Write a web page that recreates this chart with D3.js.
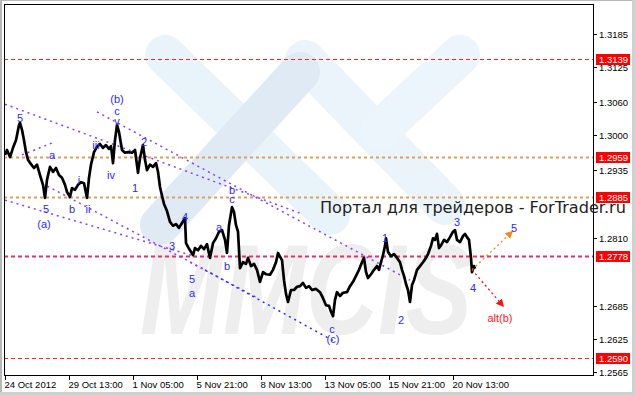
<!DOCTYPE html>
<html><head><meta charset="utf-8">
<script src="https://cdn.jsdelivr.net/npm/d3@7"></script>
<style>html,body{margin:0;padding:0;background:#fff;overflow:hidden}</style>
</head><body><svg id="c" width="635" height="395"></svg>
<script>
// ---- data ----
const hours = [0,2,5,8,11,14,15,17,19,21,23,26,29,32,35,38,40,42,45,48,51,54,57,60,62,65,67,70,73,76,79,82,84,86,89,92,95,98,101,104,106,108,110,112,114,117,120,123,127,130,133,135,138,140,142,145,148,151,153,155,157,159,162,165,168,171,174,177,180,181,183,185,188,190,193,196,199,202,205,208,211,214,217,220,222,224,227,229,231,233,235,238,241,243,246,249,252,255,258,261,265,268,271,273,275,277,279,281,283,286,289,292,295,298,301,304,307,311,315,318,321,324,326,328,330,332,335,338,342,345,348,351,354,357,359,361,363,366,369,372,374,376,378,380,381,383,386,389,392,395,397,399,401,403,405,407,409,412,415,418,421,423,426,428,430,432,434,436,439,442,445,448,450,452,455,458,460,462,464,466,467,469,470];
const closes = [1.2963,1.2972,1.2959,1.2976,1.2990,1.3018,1.3022,1.3009,1.2990,1.2968,1.2954,1.2946,1.2939,1.2945,1.2926,1.2908,1.2884,1.2917,1.2941,1.2932,1.2939,1.2926,1.2921,1.2908,1.2895,1.2886,1.2902,1.2899,1.2908,1.2913,1.2911,1.2884,1.2921,1.2945,1.2968,1.2978,1.2983,1.2976,1.2981,1.2974,1.2979,1.2948,1.2990,1.3018,1.3005,1.2972,1.2967,1.2968,1.2967,1.2972,1.2930,1.2957,1.2981,1.2954,1.2935,1.2945,1.2941,1.2948,1.2932,1.2904,1.2888,1.2873,1.2860,1.2840,1.2833,1.2836,1.2829,1.2838,1.2847,1.2801,1.2794,1.2788,1.2779,1.2792,1.2788,1.2796,1.2790,1.2799,1.2774,1.2801,1.2810,1.2822,1.2825,1.2807,1.2783,1.2834,1.2867,1.2858,1.2834,1.2822,1.2755,1.2766,1.2763,1.2774,1.2759,1.2763,1.2752,1.2730,1.2748,1.2744,1.2743,1.2752,1.2766,1.2783,1.2776,1.2770,1.2733,1.2708,1.2693,1.2715,1.2715,1.2721,1.2722,1.2728,1.2719,1.2722,1.2715,1.2717,1.2711,1.2700,1.2687,1.2686,1.2675,1.2667,1.2697,1.2711,1.2704,1.2710,1.2711,1.2722,1.2730,1.2741,1.2752,1.2766,1.2774,1.2748,1.2737,1.2744,1.2752,1.2759,1.2752,1.2766,1.2779,1.2796,1.2810,1.2785,1.2777,1.2781,1.2774,1.2766,1.2752,1.2741,1.2726,1.2715,1.2693,1.2724,1.2733,1.2752,1.2759,1.2766,1.2774,1.2781,1.2796,1.2810,1.2807,1.2818,1.2792,1.2797,1.2807,1.2803,1.2812,1.2822,1.2825,1.2807,1.2803,1.2814,1.2818,1.2812,1.2807,1.2774,1.2748,1.2759,1.2754];

const yTicks = [1.3185,1.3125,1.3060,1.3000,1.2935,1.2810,1.2685,1.2625,1.2565];
const xTickHours = [0,64,128,192,256,320,384,448];
const xTickLabels = ["24 Oct 2012","29 Oct 13:00","1 Nov 05:00","5 Nov 21:00","8 Nov 13:00","13 Nov 05:00","15 Nov 21:00","20 Nov 13:00"];

const levelPrices = [1.3139,1.2959,1.2885,1.2778,1.2590];
const levelKinds  = ["red","tan","tan","pink","red"];

// trend lines: [hour1, price1, hour2, price2]
const purpleLines = [[0,1.3056,295,1.2856],[92,1.3042,405,1.2733],[17,1.2963,50,1.2987],[37,1.2911,200,1.2752],[0,1.2880,195,1.2774],[185,1.2766,253,1.2700]];
const blueLines = [[200,1.2752,330,1.2620]];
const forecastUp = [467,1.2752,507,1.2822];
const forecastAlt = [467,1.2752,498,1.2686];

const waveText  = ["5","(b)","c","v","iii","iv","1","2","a","i","b","ii","5","(a)","3","4","a","b","b","c","5","a","c","(c)","1","2","3","4","5","alt(b)"];
const waveHour  = [15,112,112,112,91,106,130,139,47,74,67,83,41,39,167,180,214,222,227,227,187,187,327,328,380,396,452,468,509,495];
const wavePrice = [1.3031,1.3065,1.3043,1.3025,1.2981,1.2926,1.2902,1.2987,1.2963,1.2917,1.2864,1.2864,1.2863,1.2836,1.2796,1.2849,1.2831,1.2759,1.2899,1.2882,1.2736,1.2709,1.2644,1.2625,1.2810,1.2660,1.2840,1.2719,1.2829,1.2664];

const titleText = "Портал для трейдеров - ForTrader.ru";

// ---- drawing ----
const svg = d3.select("#c");
const L = 4, R = 593, T = 4, B = 375;
const x = d3.scaleLinear().domain([-1, 588]).range([L, R]);
const y = d3.scaleLinear().domain([1.3240, 1.2559]).range([T, B]);

svg.append("rect").attr("width",635).attr("height",395).attr("fill","#fff");
// outer window edges
svg.append("rect").attr("x",0).attr("y",0).attr("width",2).attr("height",395).attr("fill","#b8b8b8");
svg.append("rect").attr("x",0).attr("y",0).attr("width",635).attr("height",1).attr("fill","#b8b8b8");
svg.append("rect").attr("x",632).attr("y",0).attr("width",3).attr("height",395).attr("fill","#d0d0d0");
svg.append("rect").attr("x",0).attr("y",392).attr("width",635).attr("height",3).attr("fill","#d0d0d0");

const defs = svg.append("defs");
defs.append("clipPath").attr("id","plot").append("rect").attr("x",L).attr("y",T).attr("width",R-L).attr("height",B-T);
function marker(id,color){
  defs.append("marker").attr("id",id).attr("viewBox","0 0 10 10").attr("refX",8).attr("refY",5)
    .attr("markerWidth",6).attr("markerHeight",6).attr("orient","auto")
    .append("path").attr("d","M0,0L10,5L0,10z").attr("fill",color);
}
marker("arrO","#f08c1e"); marker("arrR","#ff1010");

// watermark logo
const wm = svg.append("g").attr("clip-path","url(#plot)");
const bands = [[165,55,330,215,"#e9f3fa"],[305,60,445,205,"#ebf4fb"],[380,130,460,55,"#ecf5fb"],[160,225,300,72,"#e0eaf5"]];
bands.forEach(b=>wm.append("line").attr("x1",b[0]).attr("y1",b[1]).attr("x2",b[2]).attr("y2",b[3])
  .attr("stroke",b[4]).attr("stroke-width",40).attr("stroke-linecap","round"));
wm.append("text").attr("x",140).attr("y",334).attr("textLength",332).attr("lengthAdjust","spacingAndGlyphs")
  .attr("font-family","Liberation Sans").attr("font-style","italic").attr("font-weight","bold")
  .attr("font-size",128).attr("fill","#eeeeee").text("MMCIS");

const g = svg.append("g").attr("clip-path","url(#plot)");

// horizontal levels
const levelStyle = {red:{c:"#ff2020",w:1.2,d:"4,3"},tan:{c:"#d8a060",w:2,d:"3,3"},pink:{c:"#e0306e",w:2,d:"4,3"}};
levelPrices.forEach((p,i)=>{
  const s = levelStyle[levelKinds[i]];
  g.append("line").attr("x1",L).attr("x2",R).attr("y1",Math.round(y(p))+0.5).attr("y2",Math.round(y(p))+0.5)
    .attr("stroke",s.c).attr("stroke-width",s.w).attr("stroke-dasharray",s.d);
});

// trend lines
function tl(d,color,dash,w){
  return g.append("line").attr("x1",x(d[0])).attr("y1",y(d[1])).attr("x2",x(d[2])).attr("y2",y(d[3]))
    .attr("stroke",color).attr("stroke-width",w||1.5).attr("stroke-dasharray",dash);
}
purpleLines.forEach(d=>tl(d,"#8a40ea","2,4"));
blueLines.forEach(d=>tl(d,"#2a2af0","2,4"));

// price line
const pts = hours.map((h,i)=>[h,closes[i]]);
g.append("path").datum(pts).attr("fill","none").attr("stroke","#000").attr("stroke-width",2.7)
  .attr("stroke-linejoin","round")
  .attr("d",d3.line().x(d=>x(d[0])).y(d=>y(d[1])));

// forecasts
tl(forecastUp,"#f08c1e","2,3",1.3).attr("marker-end","url(#arrO)");
tl(forecastAlt,"#ff1010","2,3",1.3).attr("marker-end","url(#arrR)");

// wave labels
waveText.forEach((t,i)=>{
  svg.append("text").attr("x",x(waveHour[i])).attr("y",y(wavePrice[i])).attr("dy","0.36em")
    .attr("text-anchor","middle").attr("font-family","Liberation Sans").attr("font-size",11)
    .attr("fill", t==="alt(b)"?"#ff1a1a":"#2a2aff").text(t);
});

// frame
svg.append("rect").attr("x",L+0.5).attr("y",T+0.5).attr("width",R-L).attr("height",B-T)
  .attr("fill","none").attr("stroke","#000").attr("stroke-width",1);

// y axis
const ya = svg.append("g").attr("font-family","Liberation Sans").attr("font-size",9.5);
yTicks.forEach(v=>{
  const yy = Math.round(y(v))+0.5;
  ya.append("line").attr("x1",R+0.5).attr("x2",R+4).attr("y1",yy).attr("y2",yy).attr("stroke","#000");
  ya.append("text").attr("x",599).attr("y",yy).attr("dy","0.35em").attr("fill","#000").text(d3.format(".4f")(v));
});
// level price tags
levelPrices.forEach(p=>{
  const yy = Math.round(y(p));
  ya.append("rect").attr("x",596).attr("y",yy-5).attr("width",34).attr("height",11).attr("fill","#ff0000");
  ya.append("text").attr("x",599).attr("y",yy+0.5).attr("dy","0.35em").attr("fill","#fff").text(d3.format(".4f")(p));
});

// x axis
const xa = svg.append("g").attr("font-family","Liberation Sans").attr("font-size",9.5);
xTickHours.forEach((h,i)=>{
  const xx = Math.round(x(h))+0.5;
  xa.append("line").attr("x1",xx).attr("x2",xx).attr("y1",B+0.5).attr("y2",B+5).attr("stroke","#000");
  xa.append("text").attr("x",xx-1).attr("y",388).attr("fill","#000").text(xTickLabels[i]);
});

// title
const tt = svg.append("text").attr("x",320).attr("y",213).attr("font-family","DejaVu Sans").attr("font-size",15)
  .attr("fill","#222").text(titleText);
const len = tt.node().getComputedTextLength();
tt.attr("font-size", 15*306/len);
</script></body></html>
